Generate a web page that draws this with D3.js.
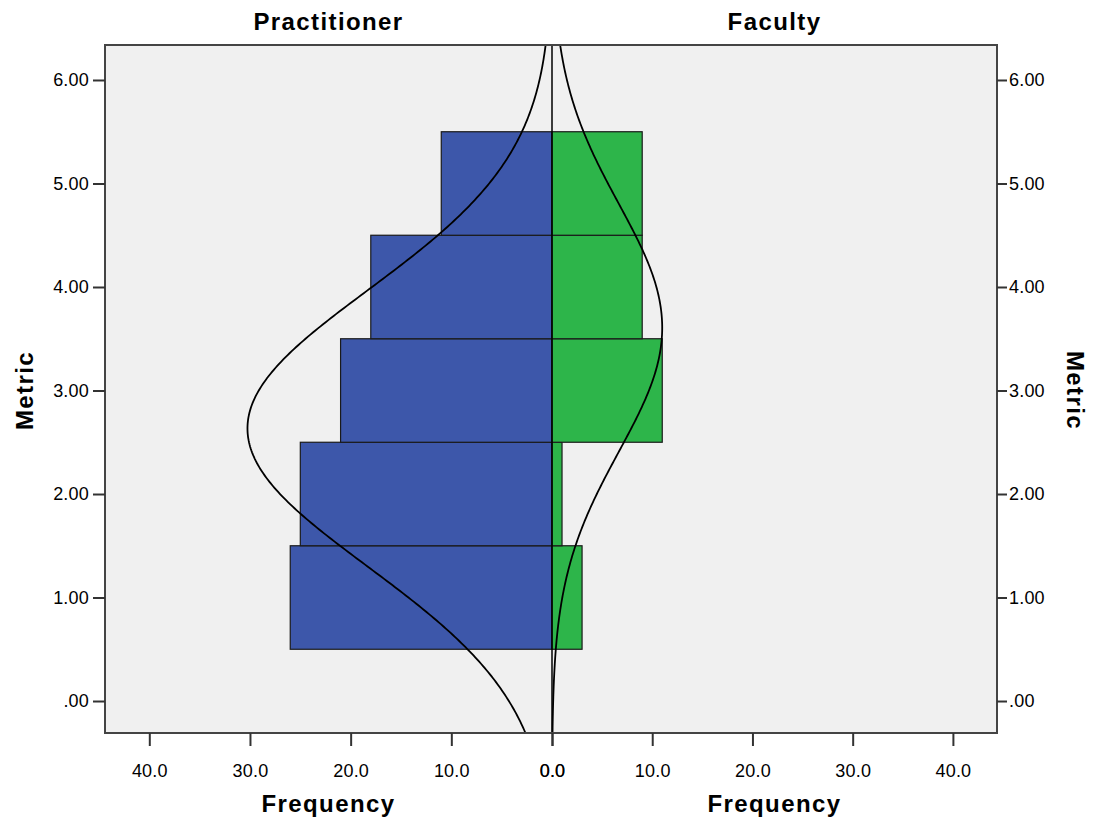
<!DOCTYPE html>
<html>
<head>
<meta charset="utf-8">
<script src="https://cdn.jsdelivr.net/npm/d3@7"></script>
<style>
  body { margin: 0; background: #fff; }
  text { font-family: "Liberation Sans", Arial, sans-serif; fill: #000; }
  .tick-label { font-size: 18px; letter-spacing: 0.2px; }
  .panel-title, .axis-label { font-size: 24px; font-weight: bold; letter-spacing: 1.4px; }
</style>
</head>
<body>
<svg id="pyramid" width="1095" height="821"></svg>
<script>
// bins of Metric (centres) and counts per group
const binCenters = [1, 2, 3, 4, 5];
const practitionerCounts = [26, 25, 21, 18, 11];
const facultyCounts = [3, 1, 11, 9, 9];
const binWidth = 1;

const yTicks = [0, 1, 2, 3, 4, 5, 6];
const xTicks = [0, 10, 20, 30, 40];

const svg = d3.select("#pyramid");
const plotLeft = 105, plotRight = 997, plotTop = 45, plotBottom = 733;
const mid = 552;
const xMax = 44.4;

const xLeft = d3.scaleLinear().domain([0, xMax]).range([mid, plotLeft]);
const xRight = d3.scaleLinear().domain([0, xMax]).range([mid, plotRight]);
const y = d3.scaleLinear().domain([-0.309, 6.338]).range([plotBottom, plotTop]);

svg.append("defs").append("clipPath").attr("id", "plotClip")
  .append("rect")
  .attr("x", plotLeft).attr("y", plotTop)
  .attr("width", plotRight - plotLeft).attr("height", plotBottom - plotTop);

svg.append("rect")
  .attr("x", plotLeft).attr("y", plotTop)
  .attr("width", plotRight - plotLeft).attr("height", plotBottom - plotTop)
  .attr("fill", "#f0f0f0");

const plot = svg.append("g").attr("clip-path", "url(#plotClip)");

function drawBars(counts, xs, color) {
  plot.selectAll(null)
    .data(binCenters.map((c, i) => ({ c, n: counts[i] })))
    .enter()
    .append("rect")
    .attr("x", d => Math.min(xs(0), xs(d.n)))
    .attr("y", d => y(d.c + binWidth / 2))
    .attr("width", d => Math.abs(xs(d.n) - xs(0)))
    .attr("height", d => y(d.c - binWidth / 2) - y(d.c + binWidth / 2))
    .attr("fill", color)
    .attr("stroke", "#1a1a1a")
    .attr("stroke-width", 1.2);
}

drawBars(practitionerCounts, xLeft, "#3d57aa");
drawBars(facultyCounts, xRight, "#2db54a");

// fitted normal curve for each group
function normalCurve(counts, xs) {
  const n = d3.sum(counts);
  const vals = [];
  binCenters.forEach((c, i) => { for (let k = 0; k < counts[i]; k++) vals.push(c); });
  const mean = d3.mean(vals);
  const sd = d3.deviation(vals);
  const pts = d3.range(-0.5, 6.6, 0.02).map(v => [
    xs(n * binWidth / (sd * Math.sqrt(2 * Math.PI)) * Math.exp(-0.5 * ((v - mean) / sd) ** 2)),
    y(v)
  ]);
  plot.append("path")
    .attr("d", d3.line()(pts))
    .attr("fill", "none")
    .attr("stroke", "#000")
    .attr("stroke-width", 1.8);
}

normalCurve(practitionerCounts, xLeft);
normalCurve(facultyCounts, xRight);

plot.append("line")
  .attr("x1", mid).attr("x2", mid)
  .attr("y1", plotTop).attr("y2", plotBottom)
  .attr("stroke", "#000").attr("stroke-width", 1.5);

svg.append("rect")
  .attr("x", plotLeft).attr("y", plotTop)
  .attr("width", plotRight - plotLeft).attr("height", plotBottom - plotTop)
  .attr("fill", "none")
  .attr("stroke", "#444")
  .attr("stroke-width", 2);

// axes
const yFmt = d => d === 0 ? ".00" : d3.format(".2f")(d);
const xFmt = d3.format(".1f");

function styleAxis(g) {
  g.select(".domain").remove();
  g.selectAll(".tick line").attr("stroke", "#333").attr("stroke-width", 2);
  g.selectAll(".tick text").attr("class", "tick-label").attr("font-size", null).attr("font-family", null);
}

svg.append("g")
  .attr("transform", `translate(${plotLeft},0)`)
  .call(d3.axisLeft(y).tickValues(yTicks).tickFormat(yFmt).tickSize(12).tickPadding(4))
  .call(styleAxis);

svg.append("g")
  .attr("transform", `translate(${plotRight},0)`)
  .call(d3.axisRight(y).tickValues(yTicks).tickFormat(yFmt).tickSize(10).tickPadding(2))
  .call(styleAxis);

svg.append("g")
  .attr("transform", `translate(0,${plotBottom})`)
  .call(d3.axisBottom(xLeft).tickValues(xTicks).tickFormat(xFmt).tickSize(13).tickPadding(18))
  .call(styleAxis);

svg.append("g")
  .attr("transform", `translate(0,${plotBottom})`)
  .call(d3.axisBottom(xRight).tickValues(xTicks).tickFormat(xFmt).tickSize(13).tickPadding(18))
  .call(styleAxis);

// titles and labels
const leftCenter = (plotLeft + mid) / 2;
const rightCenter = (mid + plotRight) / 2;

svg.append("text").attr("class", "panel-title")
  .attr("x", leftCenter).attr("y", 30).attr("text-anchor", "middle")
  .text("Practitioner");

svg.append("text").attr("class", "panel-title")
  .attr("x", rightCenter).attr("y", 30).attr("text-anchor", "middle")
  .text("Faculty");

svg.append("text").attr("class", "axis-label")
  .attr("x", leftCenter).attr("y", 812).attr("text-anchor", "middle")
  .text("Frequency");

svg.append("text").attr("class", "axis-label")
  .attr("x", rightCenter).attr("y", 812).attr("text-anchor", "middle")
  .text("Frequency");

svg.append("text").attr("class", "axis-label")
  .attr("transform", `translate(33,${y(3.0)}) rotate(-90)`)
  .attr("text-anchor", "middle")
  .text("Metric");

svg.append("text").attr("class", "axis-label")
  .attr("transform", `translate(1067,${y(3.0)}) rotate(90)`)
  .attr("text-anchor", "middle")
  .text("Metric");
</script>
</body>
</html>
